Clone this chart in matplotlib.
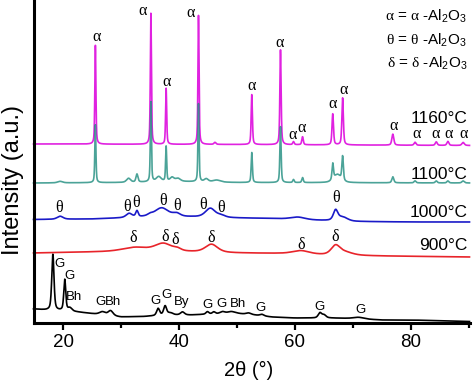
import numpy as np
import matplotlib
matplotlib.use('Agg')
import matplotlib.pyplot as plt
from matplotlib.ticker import MultipleLocator

plt.rcParams['font.family'] = ['Liberation Sans', 'DejaVu Sans']
plt.rcParams['mathtext.fontset'] = 'custom'
plt.rcParams['mathtext.rm'] = 'Liberation Sans'
plt.rcParams['mathtext.it'] = 'Liberation Serif'
plt.rcParams['mathtext.bf'] = 'Liberation Sans:bold'

# ---------------- data (2theta in degrees, intensity in arbitrary offset units) ----------------
x_min, x_max = 14.91, 90.09
y_min, y_max = 0, 323

# 1160 C (magenta): baseline + alpha-Al2O3 peaks
s1160_base_x = [15, 50, 90]
s1160_base_y = [179, 178.5, 177.5]
s1160_pos = [25.58, 35.15, 37.78, 43.36, 46.2, 52.55, 57.50, 59.74, 61.30, 66.51, 68.21, 76.87, 80.70, 84.36, 86.36, 88.99]
s1160_hgt = [99, 131, 56, 129, 2, 50, 95, 3, 8, 31, 47, 11, 3, 3.5, 4, 3]
s1160_wid = [0.22, 0.22, 0.22, 0.22, 0.4, 0.25, 0.25, 0.3, 0.3, 0.3, 0.3, 0.4, 0.4, 0.4, 0.4, 0.5]

# 1100 C (teal)
s1100_base_x = [15, 30, 40, 50, 90]
s1100_base_y = [140, 140.5, 141.5, 140.5, 140]
s1100_pos = [19.5, 25.58, 31.3, 32.75, 35.15, 36.5, 37.78, 38.8, 39.8, 43.36, 44.7, 46.5, 52.55, 57.50, 59.74, 61.30, 66.51, 67.3, 68.21, 76.87, 80.70, 84.36, 86.36, 88.99]
s1100_hgt = [1.5, 58, 4, 8, 80, 5, 35, 4, 3, 78, 3, 2, 30, 56, 3, 5, 16, 8, 24, 6, 2, 2, 2, 2]
s1100_wid = [1.0, 0.22, 0.8, 0.4, 0.22, 1.0, 0.22, 0.8, 1.0, 0.22, 0.8, 1.5, 0.25, 0.25, 0.3, 0.3, 0.3, 1.5, 0.3, 0.4, 0.4, 0.4, 0.4, 0.5]

# 1000 C (blue): theta-Al2O3
s1000_base_x = [15, 25, 30, 34, 42, 50, 56, 62, 70, 80, 90]
s1000_base_y = [103.5, 104, 105, 106, 106, 105, 104.5, 103, 101.5, 101, 101]
s1000_pos = [19.5, 31.4, 32.75, 35.0, 37.0, 39.6, 45.4, 47.3, 60.5, 67.0, 68.2]
s1000_hgt = [3, 4, 6, 1.5, 9, 3, 9, 2, 2.5, 10, 4]
s1000_wid = [1.2, 1.2, 0.5, 1.0, 2.8, 1.5, 2.0, 1.5, 3.0, 0.9, 2.0]

# 900 C (red): delta-Al2O3
s900_base_x = [15, 25, 30, 42, 50, 57, 65, 75, 90]
s900_base_y = [70, 71, 71.5, 71, 70, 69.5, 68, 67, 66]
s900_pos = [32.5, 37.3, 39.7, 45.6, 61.0, 67.0, 68.6]
s900_hgt = [4, 8, 2, 8, 3.5, 9, 3]
s900_wid = [5.0, 3.5, 1.5, 2.5, 3.5, 1.8, 3.0]

# precursor (black): gibbsite / boehmite / bayerite
sraw_base_x = [15, 17, 21, 24, 27, 30, 34, 38, 42, 46, 50, 53, 56, 60, 66, 70, 75, 80, 90]
sraw_base_y = [14, 13, 12, 10, 8, 6, 6.5, 8, 8, 9, 9.5, 8, 6, 5, 5, 4.5, 3, 3, 1.5]
sraw_pos = [18.25, 20.3, 21.2, 26.8, 28.2, 36.4, 37.6, 38.5, 40.6, 44.9, 46.0, 47.5, 49.0, 52.0, 54.3, 64.3, 65.0, 71.0]
sraw_hgt = [56, 31, 3, 3, 5, 7, 9, 2, 3, 2.5, 2, 2, 2, 1.5, 1.5, 5, 3, 1.5]
sraw_wid = [0.45, 0.4, 0.8, 1.2, 1.0, 0.6, 0.6, 1.0, 0.8, 0.6, 0.6, 1.0, 1.5, 1.0, 0.8, 0.7, 0.8, 2.0]

series_colors = ['black', '#E8242A', '#1A1AC8', '#E022E0', '#1E8C7E']

# labels
alpha_lbl_x = [25.7, 33.75, 37.9, 42.0, 52.5, 57.35, 59.65, 61.2, 66.45, 68.3, 77.0, 80.9, 84.3, 86.5, 89.1]
alpha_lbl_y = [286, 312, 241, 310, 237, 280, 188, 195, 219, 233, 197, 189, 189, 189, 189]
theta_lbl_x = [19.36, 30.98, 32.6, 37.3, 39.6, 44.1, 47.2, 67.0]
theta_lbl_y = [114.7, 115.7, 120.3, 122.3, 117, 118, 114.7, 124.7]
delta_lbl_x = [32.1, 37.6, 39.4, 45.5, 61.15, 66.9]
delta_lbl_y = [84.7, 86.3, 83, 84.7, 78, 86.3]
phase_lbl_txt = ['G', 'G', 'Bh', 'G', 'Bh', 'G', 'G', 'By', 'G', 'G', 'Bh', 'G', 'G', 'G']
phase_lbl_x = [19.36, 21.1, 21.95, 26.4, 28.7, 36.0, 37.9, 40.5, 44.9, 47.4, 50.2, 54.1, 64.3, 71.3]
phase_lbl_y = [59, 47, 25.7, 20.7, 21.3, 22, 28, 20.7, 18, 18.7, 18.7, 14.7, 15.7, 13]
temp_lbl_txt = ['1160°C', '1100°C', '1000°C', '900°C']
temp_lbl_y = [199.7, 143.7, 106.3, 73]
legend_txt = [r'$\alpha$ = $\alpha$ -Al$_2$O$_3$',
              r'$\theta$ = $\theta$ -Al$_2$O$_3$',
              r'$\delta$ = $\delta$ -Al$_2$O$_3$']
legend_y = [302.3, 278.5, 255]


def pattern(x, bx, by, pos, hgt, wid, eta=0.5):
    y = np.interp(x, bx, by)
    for p, a, w in zip(pos, hgt, wid):
        d = (x - p) / w
        y = y + a * (eta / (1 + 4 * d ** 2) + (1 - eta) * np.exp(-4 * np.log(2) * d ** 2))
    return y


x = np.linspace(x_min, x_max, 6000)

fig = plt.figure(figsize=(4.74, 3.81), dpi=100)
ax = fig.add_axes([33.5 / 474, 58 / 381, 436 / 474, 323 / 381])

curves = [
    (sraw_base_x, sraw_base_y, sraw_pos, sraw_hgt, sraw_wid),
    (s900_base_x, s900_base_y, s900_pos, s900_hgt, s900_wid),
    (s1000_base_x, s1000_base_y, s1000_pos, s1000_hgt, s1000_wid),
    (s1160_base_x, s1160_base_y, s1160_pos, s1160_hgt, s1160_wid),
    (s1100_base_x, s1100_base_y, s1100_pos, s1100_hgt, s1100_wid),
]
for (bx, by, pos, hgt, wid), col in zip(curves, series_colors):
    alpha = 0.8 if col == '#1E8C7E' else 1.0
    ax.plot(x, pattern(x, bx, by, pos, hgt, wid), color=col, lw=1.2, alpha=alpha, clip_on=False)

ax.set_xlim(x_min, x_max)
ax.set_ylim(y_min, y_max)

for s in ['top', 'right']:
    ax.spines[s].set_visible(False)
for s in ['left', 'bottom']:
    ax.spines[s].set_linewidth(2.2)
ax.set_yticks([])
ax.xaxis.set_major_locator(MultipleLocator(20))
ax.xaxis.set_minor_locator(MultipleLocator(10))
ax.tick_params(axis='x', which='major', direction='out', length=5.2, width=1.6, labelsize=13.5, pad=3)
ax.tick_params(axis='x', which='minor', direction='out', length=3.3, width=1.6)
ax.set_xlabel('2θ (°)', fontsize=14.5, va='center')
ax.xaxis.set_label_coords(0.494, -0.1455)
ax.set_ylabel('Intensity (a.u.)', fontsize=17, va='center')
ax.yaxis.set_label_coords(-0.046, 0.443)

serif = 'Liberation Serif'
for xx, yy in zip(alpha_lbl_x, alpha_lbl_y):
    ax.text(xx, yy, 'α', family=serif, fontsize=11.5, ha='center', va='center', clip_on=False)
for xx, yy in zip(theta_lbl_x, theta_lbl_y):
    ax.text(xx, yy, 'θ', family=serif, fontsize=11.5, ha='center', va='center')
for xx, yy in zip(delta_lbl_x, delta_lbl_y):
    ax.text(xx, yy, 'δ', family=serif, fontsize=11.5, ha='center', va='center')
for t, xx, yy in zip(phase_lbl_txt, phase_lbl_x, phase_lbl_y):
    ax.text(xx, yy, t, fontsize=9.5, ha='center', va='center')
for t, yy in zip(temp_lbl_txt, temp_lbl_y):
    ax.text(89.83, yy, t, fontsize=12.5, ha='right', va='baseline')
for t, yy in zip(legend_txt, legend_y):
    ax.text(89.66, yy, t, fontsize=11, ha='right', va='baseline')

fig.savefig('out.png', dpi=100)
